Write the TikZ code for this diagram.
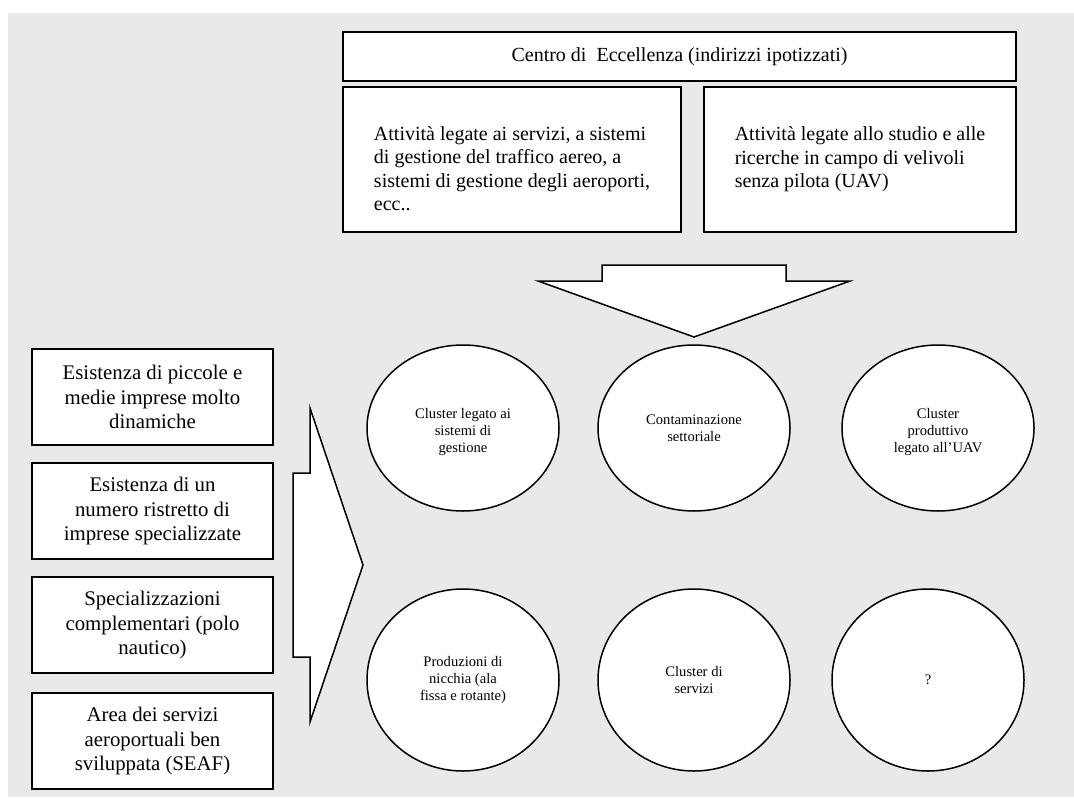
\documentclass[tikz,border=0pt]{standalone}
\usepackage{fontspec}
\setmainfont{Liberation Serif}
\usetikzlibrary{arrows.meta,positioning,shapes.geometric,calc}
\definecolor{Sfondo}{HTML}{E9E9E9}

\begin{document}
\begin{tikzpicture}[
  x=0.5pt, y=-0.5pt,
  riquadro/.style={
    draw=black,
    line width=1pt,
    fill=white,
    align=center,
    inner sep=0pt,
    font=\fontsize{10}{11.75}\selectfont
  },
  fattore/.style={riquadro,minimum width=120.5pt,minimum height=48pt,
    font=\fontsize{10.4}{12.2}\selectfont},
  attivita/.style={riquadro,align=left,minimum height=72.5pt},
  cerchio/.style={
    ellipse,
    draw=black,
    line width=0.75pt,
    fill=white,
    align=center,
    inner sep=0pt,
    minimum width=96pt,
    font=\fontsize{7.3}{8.4}\selectfont
  },
  freccia/.style={draw=black,line width=0.75pt,fill=white,line join=miter}
]
% sfondo grigio
\useasboundingbox (0,0) rectangle (1074,797);
\fill[Sfondo] (8,13) rectangle (1074,797);

% centro di eccellenza
\node[riquadro,minimum width=336.5pt,minimum height=24.5pt] (centro) at (679.5,56.5)
  {Centro di~ Eccellenza (indirizzi ipotizzati)};
\node[attivita,minimum width=169pt] (attServizi) at (512,159.5)
  {\rule{0pt}{16pt}Attività legate ai servizi, a sistemi\\
   di gestione del traffico aereo, a\\
   sistemi di gestione degli aeroporti,\\
   ecc..};
\node[attivita,minimum width=156pt] (attUAV) at (860,159.5)
  {Attività legate allo studio e alle\\
   ricerche in campo di velivoli\\
   senza pilota (UAV)};

% freccia verso il basso
\draw[freccia] (602,265) -- (786,265) -- (786,281) -- (850,281)
  -- (694,337) -- (538,281) -- (602,281) -- cycle;

% fattori locali
\node[fattore] (pmi) at (152.5,397)
  {Esistenza di piccole e\\ medie imprese molto\\ dinamiche};
\node[fattore,below=8pt of pmi] (ristretto)
  {Esistenza di un\\ numero ristretto di\\ imprese specializzate};
\node[fattore,below=8pt of ristretto] (nautico)
  {Specializzazioni\\ complementari (polo\\ nautico)};
\node[fattore,below=9pt of nautico] (seaf)
  {Area dei servizi\\ aeroportuali ben\\ sviluppata (SEAF)};

% freccia verso destra
\draw[freccia] (310,408) -- (310,473) -- (293,473) -- (293,657)
  -- (310,657) -- (310,722) -- (363,565) -- cycle;

% cluster
\node[cerchio,minimum height=83pt] (clGestione) at (463,428)
  {\rule{0pt}{9pt}Cluster legato ai\\ sistemi di\\ gestione};
\node[cerchio,minimum height=83pt] (contaminazione) at (694,428)
  {Contaminazione\\ settoriale};
\node[cerchio,minimum height=83pt] (clUAV) at (938,428)
  {\rule{0pt}{9pt}Cluster\\ produttivo\\ legato all’UAV};
\node[cerchio,minimum height=91pt] (nicchia) at (463,680)
  {Produzioni di\\ nicchia (ala\\ fissa e rotante)};
\node[cerchio,minimum height=91pt] (clServizi) at (694,680)
  {Cluster di\\ servizi};
\node[cerchio,minimum height=91pt] (ignoto) at (928,680) {?};
\end{tikzpicture}
\end{document}
